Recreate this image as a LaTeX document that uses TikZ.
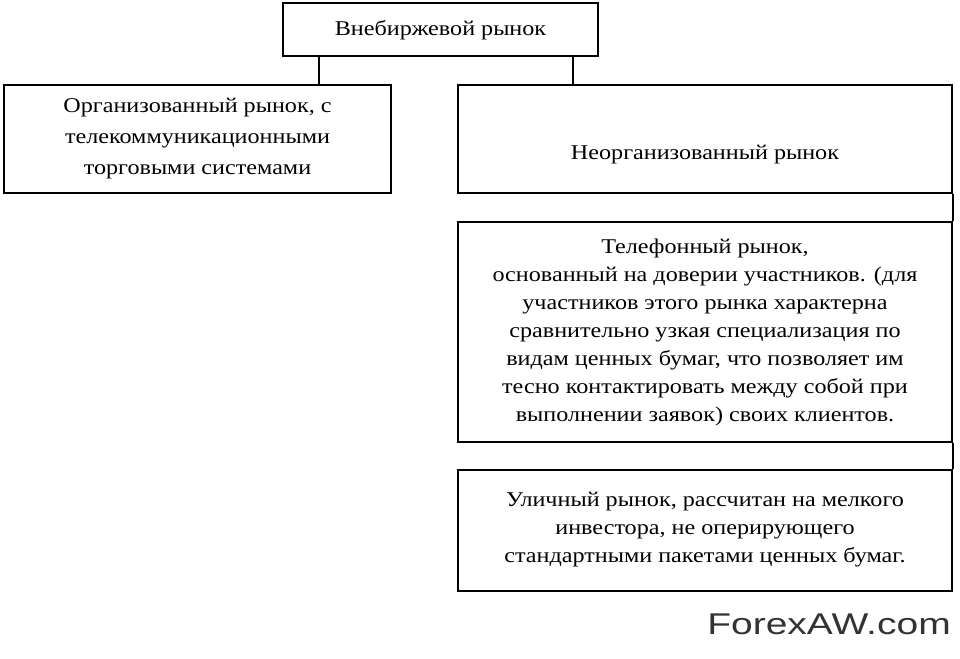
\documentclass[tikz,border=0pt]{standalone}
\usepackage{fontspec}
\setmainfont{Liberation Serif}[FakeStretch=1.15]
\newfontfamily\wmfont{Liberation Sans}[FakeStretch=1.3]
\tikzset{every node/.style={inner sep=0pt,align=center},
  box/.style={draw,line width=2pt,font=\fontsize{21}{28}\selectfont}}

\begin{document}
\begin{tikzpicture}[x=1pt,y=-1pt,line width=2pt]
\useasboundingbox (0,0) rectangle (960,658);
      \node[box,minimum width=315,minimum height=53] (otc) at (440.5,30) {Внебиржевой рынок};
      \node[box,minimum width=387,minimum height=107,font=\fontsize{21}{31}\selectfont] (org) at (197.5,139)
        {Организованный рынок, с\\ телекоммуникационными\\ торговыми системами};
      \node[box,minimum width=494,minimum height=107,
        label={[yshift=-16pt,font=\fontsize{21}{28}\selectfont]center:Неорганизованный рынок}] (unorg) at (705,139) {};
      \node[box,minimum width=494,minimum height=220] (phone) at (705,332)
        {Телефонный рынок,\\ основанный на доверии участников. (для\\ участников этого рынка характерна\\
         сравнительно узкая специализация по\\ видам ценных бумаг, что позволяет им\\
         тесно контактировать между собой при\\ выполнении заявок) своих клиентов.};
      \node[box,minimum width=494,minimum height=121] (street) at (705,530)
        {Уличный рынок, рассчитан на мелкого\\ инвестора, не оперирующего\\ стандартными пакетами ценных бумаг.};
      \node[font=\wmfont\fontsize{30}{32}\selectfont,text=black!80] (wm) at (829,624) {ForexAW.com};

\foreach \dx/\t in {37/org,291/unorg}
  \draw ([xshift=\dx]otc.south west) -- ([xshift=\dx]otc.south west |- \t.north);
\foreach \a/\b in {unorg/phone,phone/street}
  \draw (\a.south east) -- (\b.north east);
\end{tikzpicture}
\end{document}
